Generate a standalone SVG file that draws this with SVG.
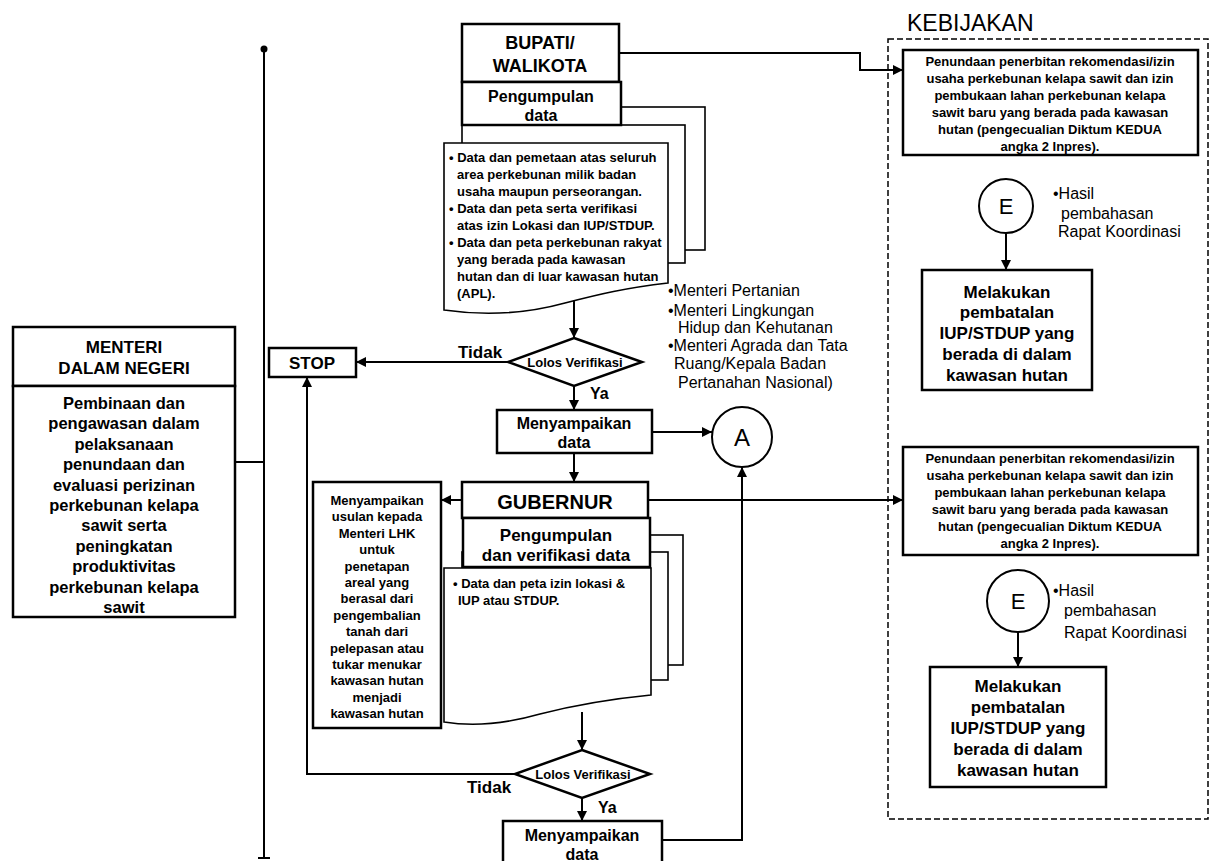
<svg xmlns="http://www.w3.org/2000/svg" width="1211" height="861" viewBox="0 0 1211 861">
<defs>
<marker id="ah" markerWidth="10" markerHeight="10" refX="10" refY="5" orient="auto" markerUnits="userSpaceOnUse">
<path d="M0,0 L10,5 L0,10 z" fill="#000"/>
</marker>
<style>
.box{fill:#fff;stroke:#000;stroke-width:2.5}
.thin{fill:#fff;stroke:#000;stroke-width:1.6}
.ln{fill:none;stroke:#000;stroke-width:2}
.arr{fill:none;stroke:#000;stroke-width:2;marker-end:url(#ah)}
text{font-family:"Liberation Sans",Arial,sans-serif;fill:#000}
.b{font-weight:bold}
.c{text-anchor:middle}
.t13{font-size:13px}
.t16{font-size:16px}
.t17{font-size:17px}
</style>
</defs>
<rect width="1211" height="861" fill="#fff"/>

<g id="connectors">
<path class="ln" d="M264,49 V858 M258,858 H270 M235,462 H264"/>
<circle cx="264" cy="49" r="3.5" fill="#000"/>
<path class="arr" d="M619,53 H860 V70 H903"/>
<path class="arr" d="M574,300 V338"/>
<path class="arr" d="M508,362 H356"/>
<path class="arr" d="M574,386 V410"/>
<path class="arr" d="M652,432 H712"/>
<path class="arr" d="M574,453 V482"/>
<path class="arr" d="M462,500 H441"/>
<path class="arr" d="M648,500 H903"/>
<path class="arr" d="M582,712 V750"/>
<path class="arr" d="M515,774 H307 V377"/>
<path class="arr" d="M582,798 V821"/>
<path class="arr" d="M662,840 H742 V467"/>
<path class="arr" d="M1006,233 V270"/>
<path class="arr" d="M1018,632 V667"/>
</g>

<g id="menteri-dalam-negeri">
<rect class="box" x="13" y="327" width="222" height="59"/>
<rect class="box" x="13" y="386" width="222" height="231"/>
<text class="b c t17" x="124" y="353">MENTERI</text>
<text class="b c t17" x="124" y="374">DALAM NEGERI</text>
<g class="b c" font-size="16.5">
<text x="124" y="409">Pembinaan dan</text>
<text x="124" y="429">pengawasan dalam</text>
<text x="124" y="450">pelaksanaan</text>
<text x="124" y="470">penundaan dan</text>
<text x="124" y="491">evaluasi perizinan</text>
<text x="124" y="511">perkebunan kelapa</text>
<text x="124" y="531">sawit serta</text>
<text x="124" y="552">peningkatan</text>
<text x="124" y="572">produktivitas</text>
<text x="124" y="593">perkebunan kelapa</text>
<text x="124" y="613">sawit</text>
</g>
</g>

<g id="stop">
<rect class="box" x="269" y="348" width="87" height="29"/>
<text class="b c t17" x="312" y="369">STOP</text>
</g>

<g id="bupati">
<rect class="thin" x="480" y="107" width="225" height="143"/>
<rect class="thin" x="462" y="125" width="223" height="138"/>
<rect class="box" x="462" y="24" width="157" height="58"/>
<text class="b c" font-size="18" x="540" y="49">BUPATI/</text>
<text class="b c" font-size="18" x="540" y="72">WALIKOTA</text>
<rect class="box" x="462" y="82" width="159" height="43"/>
<text class="b c t16" x="541" y="102">Pengumpulan</text>
<text class="b c t16" x="541" y="121">data</text>
</g>

<g id="data-bupati">
<path class="thin" d="M444,143 H668 V283 C625,288 600,294 565,303 C525,314 485,316 444,310 Z"/>
<g class="b t13">
<text x="449" y="162">• Data dan pemetaan atas seluruh</text>
<text x="457" y="179">area perkebunan milik badan</text>
<text x="457" y="196">usaha maupun perseorangan.</text>
<text x="449" y="213">• Data dan peta serta verifikasi</text>
<text x="457" y="230">atas izin Lokasi dan IUP/STDUP.</text>
<text x="449" y="247">• Data dan peta perkebunan rakyat</text>
<text x="457" y="264">yang berada pada kawasan</text>
<text x="457" y="281">hutan dan di luar kawasan hutan</text>
<text x="457" y="298">(APL).</text>
</g>
</g>

<g id="menteri-list">
<g class="t16">
<text x="668" y="296">•Menteri Pertanian</text>
<text x="668" y="316">•Menteri Lingkungan</text>
<text x="678" y="333">Hidup dan Kehutanan</text>
<text x="668" y="351">•Menteri Agrada dan Tata</text>
<text x="674" y="369">Ruang/Kepala Badan</text>
<text x="678" y="388">Pertanahan Nasional)</text>
</g>
</g>

<g id="verifikasi-1">
<polygon points="574,338 642,362 574,386 508,362" fill="#fff" stroke="#000" stroke-width="2.5"/>
<text class="b c t13" x="575" y="367">Lolos Verifikasi</text>
<text class="b t17" x="458" y="358">Tidak</text>
<text class="b t16" x="590" y="399">Ya</text>
</g>

<g id="menyampaikan-1">
<rect class="box" x="497" y="410" width="155" height="43"/>
<text class="b c t16" x="574" y="429">Menyampaikan</text>
<text class="b c t16" x="574" y="448">data</text>
</g>

<g id="connector-a">
<circle cx="742" cy="437" r="30" fill="#fff" stroke="#000" stroke-width="2"/>
<text class="c" font-size="24" x="742" y="446">A</text>
</g>

<g id="gubernur">
<rect class="thin" x="480" y="535" width="203" height="130"/>
<rect class="thin" x="462" y="552" width="206" height="128"/>
<rect class="box" x="462" y="482" width="186" height="36"/>
<text class="b c" font-size="20" x="555" y="509">GUBERNUR</text>
<rect class="box" x="463" y="518" width="187" height="49"/>
<text class="b c t17" x="556" y="541">Pengumpulan</text>
<text class="b c t17" x="556" y="561">dan verifikasi data</text>
</g>

<g id="data-gubernur">
<path class="thin" d="M444,568 H651 V695 C610,699 575,705 540,714 C505,724 475,727 444,722 Z"/>
<text class="b t13" x="453" y="588">• Data dan peta izin lokasi &amp;</text>
<text class="b t13" x="458" y="605">IUP atau STDUP.</text>
</g>

<g id="usulan-lhk">
<rect class="box" x="313" y="482" width="128" height="246"/>
<g class="b c t13">
<text x="377" y="505">Menyampaikan</text>
<text x="377" y="521">usulan kepada</text>
<text x="377" y="538">Menteri LHK</text>
<text x="377" y="554">untuk</text>
<text x="377" y="571">penetapan</text>
<text x="377" y="587">areal yang</text>
<text x="377" y="603">berasal dari</text>
<text x="377" y="620">pengembalian</text>
<text x="377" y="636">tanah dari</text>
<text x="377" y="653">pelepasan atau</text>
<text x="377" y="669">tukar menukar</text>
<text x="377" y="685">kawasan hutan</text>
<text x="377" y="702">menjadi</text>
<text x="377" y="718">kawasan hutan</text>
</g>
</g>

<g id="verifikasi-2">
<polygon points="582,750 650,774 582,798 515,774" fill="#fff" stroke="#000" stroke-width="2.5"/>
<text class="b c t13" x="583" y="779">Lolos Verifikasi</text>
<text class="b t17" x="467" y="793">Tidak</text>
<text class="b t16" x="598" y="813">Ya</text>
</g>

<g id="menyampaikan-2">
<rect class="box" x="503" y="821" width="159" height="60"/>
<text class="b c t16" x="582" y="841">Menyampaikan</text>
<text class="b c t16" x="582" y="860">data</text>
</g>

<g id="kebijakan">
<text font-size="23" x="907" y="31">KEBIJAKAN</text>
<rect x="888" y="39" width="320" height="780" fill="none" stroke="#000" stroke-width="1.5" stroke-dasharray="6,3"/>
</g>

<g id="penundaan-1">
<rect class="box" x="903" y="50" width="295" height="105"/>
<g class="b c t13">
<text x="1050" y="66">Penundaan penerbitan rekomendasi/izin</text>
<text x="1050" y="83">usaha perkebunan kelapa sawit dan izin</text>
<text x="1050" y="100">pembukaan lahan perkebunan kelapa</text>
<text x="1050" y="117">sawit baru yang berada pada kawasan</text>
<text x="1050" y="134">hutan (pengecualian Diktum KEDUA</text>
<text x="1050" y="151">angka 2 Inpres).</text>
</g>
</g>

<g id="e-1">
<circle cx="1006" cy="206" r="27" fill="#fff" stroke="#000" stroke-width="2"/>
<text class="c" font-size="22" x="1006" y="214">E</text>
<text class="t16" x="1053" y="199">•Hasil</text>
<text class="t16" x="1061" y="219">pembahasan</text>
<text class="t16" x="1058" y="237">Rapat Koordinasi</text>
</g>

<g id="pembatalan-1">
<rect class="box" x="922" y="270" width="170" height="120"/>
<g class="b c t17">
<text x="1007" y="298">Melakukan</text>
<text x="1007" y="318">pembatalan</text>
<text x="1007" y="339">IUP/STDUP yang</text>
<text x="1007" y="360">berada di dalam</text>
<text x="1007" y="381">kawasan hutan</text>
</g>
</g>

<g id="penundaan-2">
<rect class="box" x="903" y="447" width="295" height="108"/>
<g class="b c t13">
<text x="1050" y="463">Penundaan penerbitan rekomendasi/izin</text>
<text x="1050" y="480">usaha perkebunan kelapa sawit dan izin</text>
<text x="1050" y="497">pembukaan lahan perkebunan kelapa</text>
<text x="1050" y="514">sawit baru yang berada pada kawasan</text>
<text x="1050" y="531">hutan (pengecualian Diktum KEDUA</text>
<text x="1050" y="548">angka 2 Inpres).</text>
</g>
</g>

<g id="e-2">
<circle cx="1018" cy="601" r="31" fill="#fff" stroke="#000" stroke-width="2"/>
<text class="c" font-size="22" x="1018" y="609">E</text>
<text class="t16" x="1053" y="596">•Hasil</text>
<text class="t16" x="1064" y="616">pembahasan</text>
<text class="t16" x="1064" y="638">Rapat Koordinasi</text>
</g>

<g id="pembatalan-2">
<rect class="box" x="930" y="667" width="176" height="120"/>
<g class="b c t17">
<text x="1018" y="692">Melakukan</text>
<text x="1018" y="713">pembatalan</text>
<text x="1018" y="734">IUP/STDUP yang</text>
<text x="1018" y="755">berada di dalam</text>
<text x="1018" y="776">kawasan hutan</text>
</g>
</g>
</svg>
